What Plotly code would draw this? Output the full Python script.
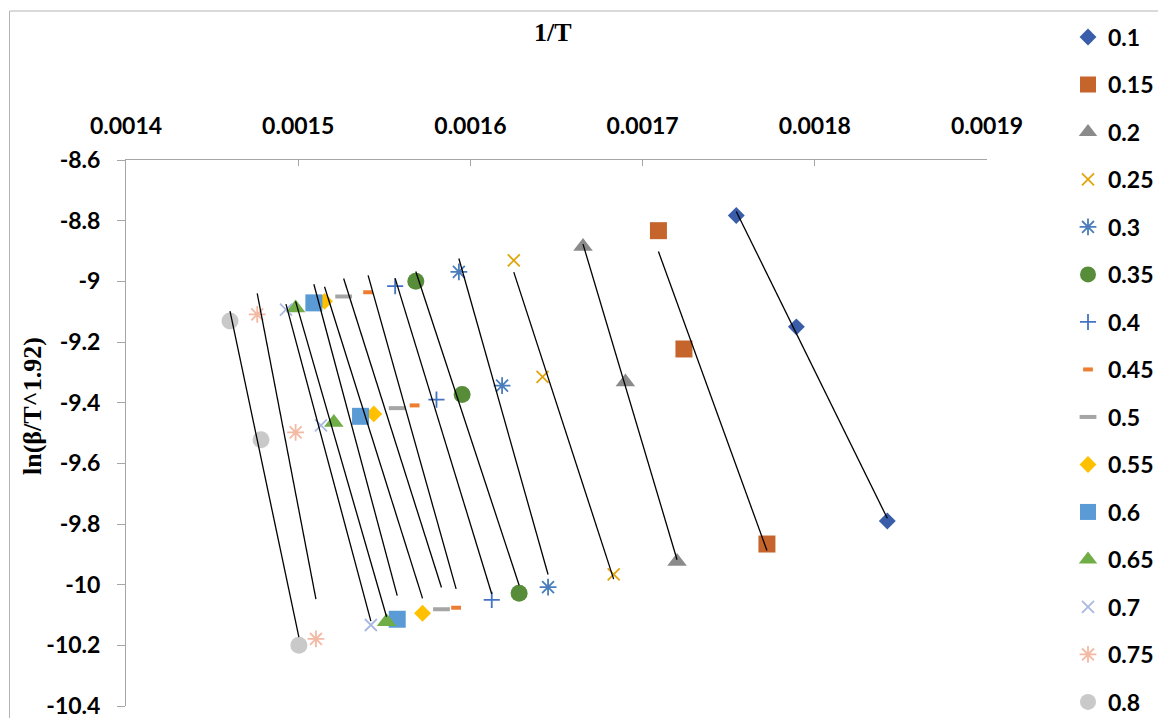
import numpy as np
import plotly.graph_objects as go

# Conversion degree labels (one series each)
alpha_labels = ["0.1", "0.15", "0.2", "0.25", "0.3", "0.35", "0.4", "0.45",
                "0.5", "0.55", "0.6", "0.65", "0.7", "0.75", "0.8"]

# 1/T values for the three heating rates of each series
inv_temp = [
    [0.0017544, 0.0017893, 0.0018421],
    [0.0017092, 0.0017240, 0.0017722],
    [0.0016654, 0.0016900, 0.0017200],
    [0.0016252, 0.0016419, 0.0016832],
    [0.0015933, 0.0016184, 0.0016451],
    [0.0015683, 0.0015952, 0.0016283],
    [0.0015563, 0.0015803, 0.0016124],
    [0.0015406, 0.0015676, 0.0015917],
    [0.0015264, 0.0015575, 0.0015832],
    [0.0015153, 0.0015439, 0.0015722],
    [0.0015091, 0.0015362, 0.0015575],
    [0.0014985, 0.0015207, 0.0015513],
    [0.0014929, 0.0015132, 0.0015422],
    [0.0014762, 0.0014985, 0.0015103],
    [0.0014604, 0.0014784, 0.0015004],
]

# ln(beta / T^1.92) values
ln_rate = [
    [-8.783, -9.150, -9.790],
    [-8.833, -9.223, -9.866],
    [-8.885, -9.332, -9.924],
    [-8.931, -9.315, -9.966],
    [-8.969, -9.344, -10.008],
    [-9.000, -9.373, -10.028],
    [-9.016, -9.390, -10.050],
    [-9.036, -9.409, -10.076],
    [-9.050, -9.418, -10.081],
    [-9.066, -9.437, -10.094],
    [-9.071, -9.445, -10.114],
    [-9.088, -9.465, -10.122],
    [-9.093, -9.475, -10.133],
    [-9.109, -9.498, -10.179],
    [-9.131, -9.522, -10.200],
]

x_tick_vals = [0.0014, 0.0015, 0.0016, 0.0017, 0.0018, 0.0019]
x_tick_text = ["0.0014", "0.0015", "0.0016", "0.0017", "0.0018", "0.0019"]
y_tick_vals = [-8.6, -8.8, -9.0, -9.2, -9.4, -9.6, -9.8, -10.0, -10.2, -10.4]
y_tick_text = ["-8.6", "-8.8", "-9", "-9.2", "-9.4", "-9.6", "-9.8", "-10", "-10.2", "-10.4"]

# Marker look per series
marker_styles = [
    dict(symbol="diamond", size=13, color="#3A5DA9", lw=0),
    dict(symbol="square", size=17, color="#C5652B", lw=0),
    dict(symbol="triangle-up", size=17, color="#8B8B8B", lw=0),
    dict(symbol="x-thin-open", size=12, color="#E2A40C", lw=1.8),
    dict(symbol="asterisk-open", size=14, color="#4A7DBB", lw=1.8),
    dict(symbol="circle", size=17, color="#578C38", lw=0),
    dict(symbol="cross-thin-open", size=11.5, color="#4472C4", lw=1.8),
    dict(symbol="line-ew-open", size=7, color="#ED7D31", lw=4),
    dict(symbol="line-ew-open", size=12, color="#A5A5A5", lw=4),
    dict(symbol="diamond", size=13, color="#FFC000", lw=0),
    dict(symbol="square", size=17, color="#5B9BD5", lw=0),
    dict(symbol="triangle-up", size=17, color="#70AD47", lw=0),
    dict(symbol="x-thin-open", size=12, color="#A9B9E3", lw=1.8),
    dict(symbol="asterisk-open", size=14, color="#F3B9A3", lw=1.8),
    dict(symbol="circle", size=17, color="#C9C9C9", lw=0),
]

fig = go.Figure()

for lab, xs, ys, st in zip(alpha_labels, inv_temp, ln_rate, marker_styles):
    fig.add_trace(go.Scatter(
        x=xs, y=ys, mode="markers", name=lab, legendgroup=lab,
        marker=dict(symbol=st["symbol"], size=st["size"], color=st["color"],
                    line=dict(width=st["lw"], color=st["color"])),
    ))

# Linear trendline for each series over its own 1/T span
for lab, xs, ys in zip(alpha_labels, inv_temp, ln_rate):
    xa = np.array(xs)
    ya = np.array(ys)
    slope, icpt = np.polyfit(xa, ya, 1)
    xe = np.array([xa.min(), xa.max()])
    fig.add_trace(go.Scatter(
        x=xe, y=slope * xe + icpt, mode="lines", showlegend=False,
        legendgroup=lab, hoverinfo="skip",
        line=dict(color="black", width=1.3),
    ))

W, H = 1158, 718
# plot area in pixels: x 126..987, y 160..706
L, R, T, B = 126, 987, 160, 706


def px_x(p):
    return p / W


def px_y(p):
    return (H - p) / H


tick_font = dict(family="Lato", size=23, color="black", weight="bold")
axis_grey = "#A6A6A6"

fig.update_layout(
    width=W, height=H,
    margin=dict(l=0, r=0, t=0, b=0, pad=0, autoexpand=False),
    plot_bgcolor="white", paper_bgcolor="white",
    showlegend=True,
    legend=dict(
        x=px_x(1068), y=px_y(15.5), xanchor="left", yanchor="top",
        font=dict(family="Lato", size=23, color="black", weight="bold"),
        tracegroupgap=14.6, bgcolor="rgba(0,0,0,0)", borderwidth=0,
    ),
    xaxis=dict(
        domain=[px_x(L), px_x(R)],
        side="top", range=[0.0014, 0.0019],
        tickvals=x_tick_vals, ticktext=x_tick_text,
        ticks="inside", ticklen=6, tickcolor=axis_grey, tickwidth=1,
        showline=True, linecolor=axis_grey, linewidth=1,
        showgrid=False, zeroline=False, tickfont=tick_font,
        ticklabelstandoff=16, ticklabeloverflow="allow", automargin=False,
    ),
    yaxis=dict(
        domain=[px_y(B), px_y(T)],
        range=[-10.4, -8.6],
        tickvals=y_tick_vals, ticktext=y_tick_text,
        ticks="outside", ticklen=8, tickcolor=axis_grey, tickwidth=1,
        showline=True, linecolor=axis_grey, linewidth=1,
        showgrid=False, zeroline=False, tickfont=tick_font,
        ticklabelstandoff=12, ticklabeloverflow="allow", automargin=False,
    ),
    annotations=[
        dict(text="1/T", xref="paper", yref="paper", x=px_x(553), y=px_y(33),
             xanchor="center", yanchor="middle", showarrow=False,
             font=dict(family="Liberation Serif", size=26, color="black", weight="bold")),
        dict(text="ln(β/T^1.92)", xref="paper", yref="paper", x=px_x(32), y=px_y(406),
             xanchor="center", yanchor="middle", showarrow=False, textangle=-90,
             font=dict(family="Liberation Serif", size=26, color="black", weight="bold")),
    ],
    shapes=[
        dict(type="line", xref="paper", yref="paper",
             x0=px_x(9.5), x1=px_x(9.5), y0=px_y(11), y1=px_y(740),
             line=dict(color="#B4B4B4", width=1)),
        dict(type="line", xref="paper", yref="paper",
             x0=px_x(9.5), x1=px_x(1180), y0=px_y(11), y1=px_y(11),
             line=dict(color="#B4B4B4", width=1)),
    ],
)

fig.write_html("out.html")
